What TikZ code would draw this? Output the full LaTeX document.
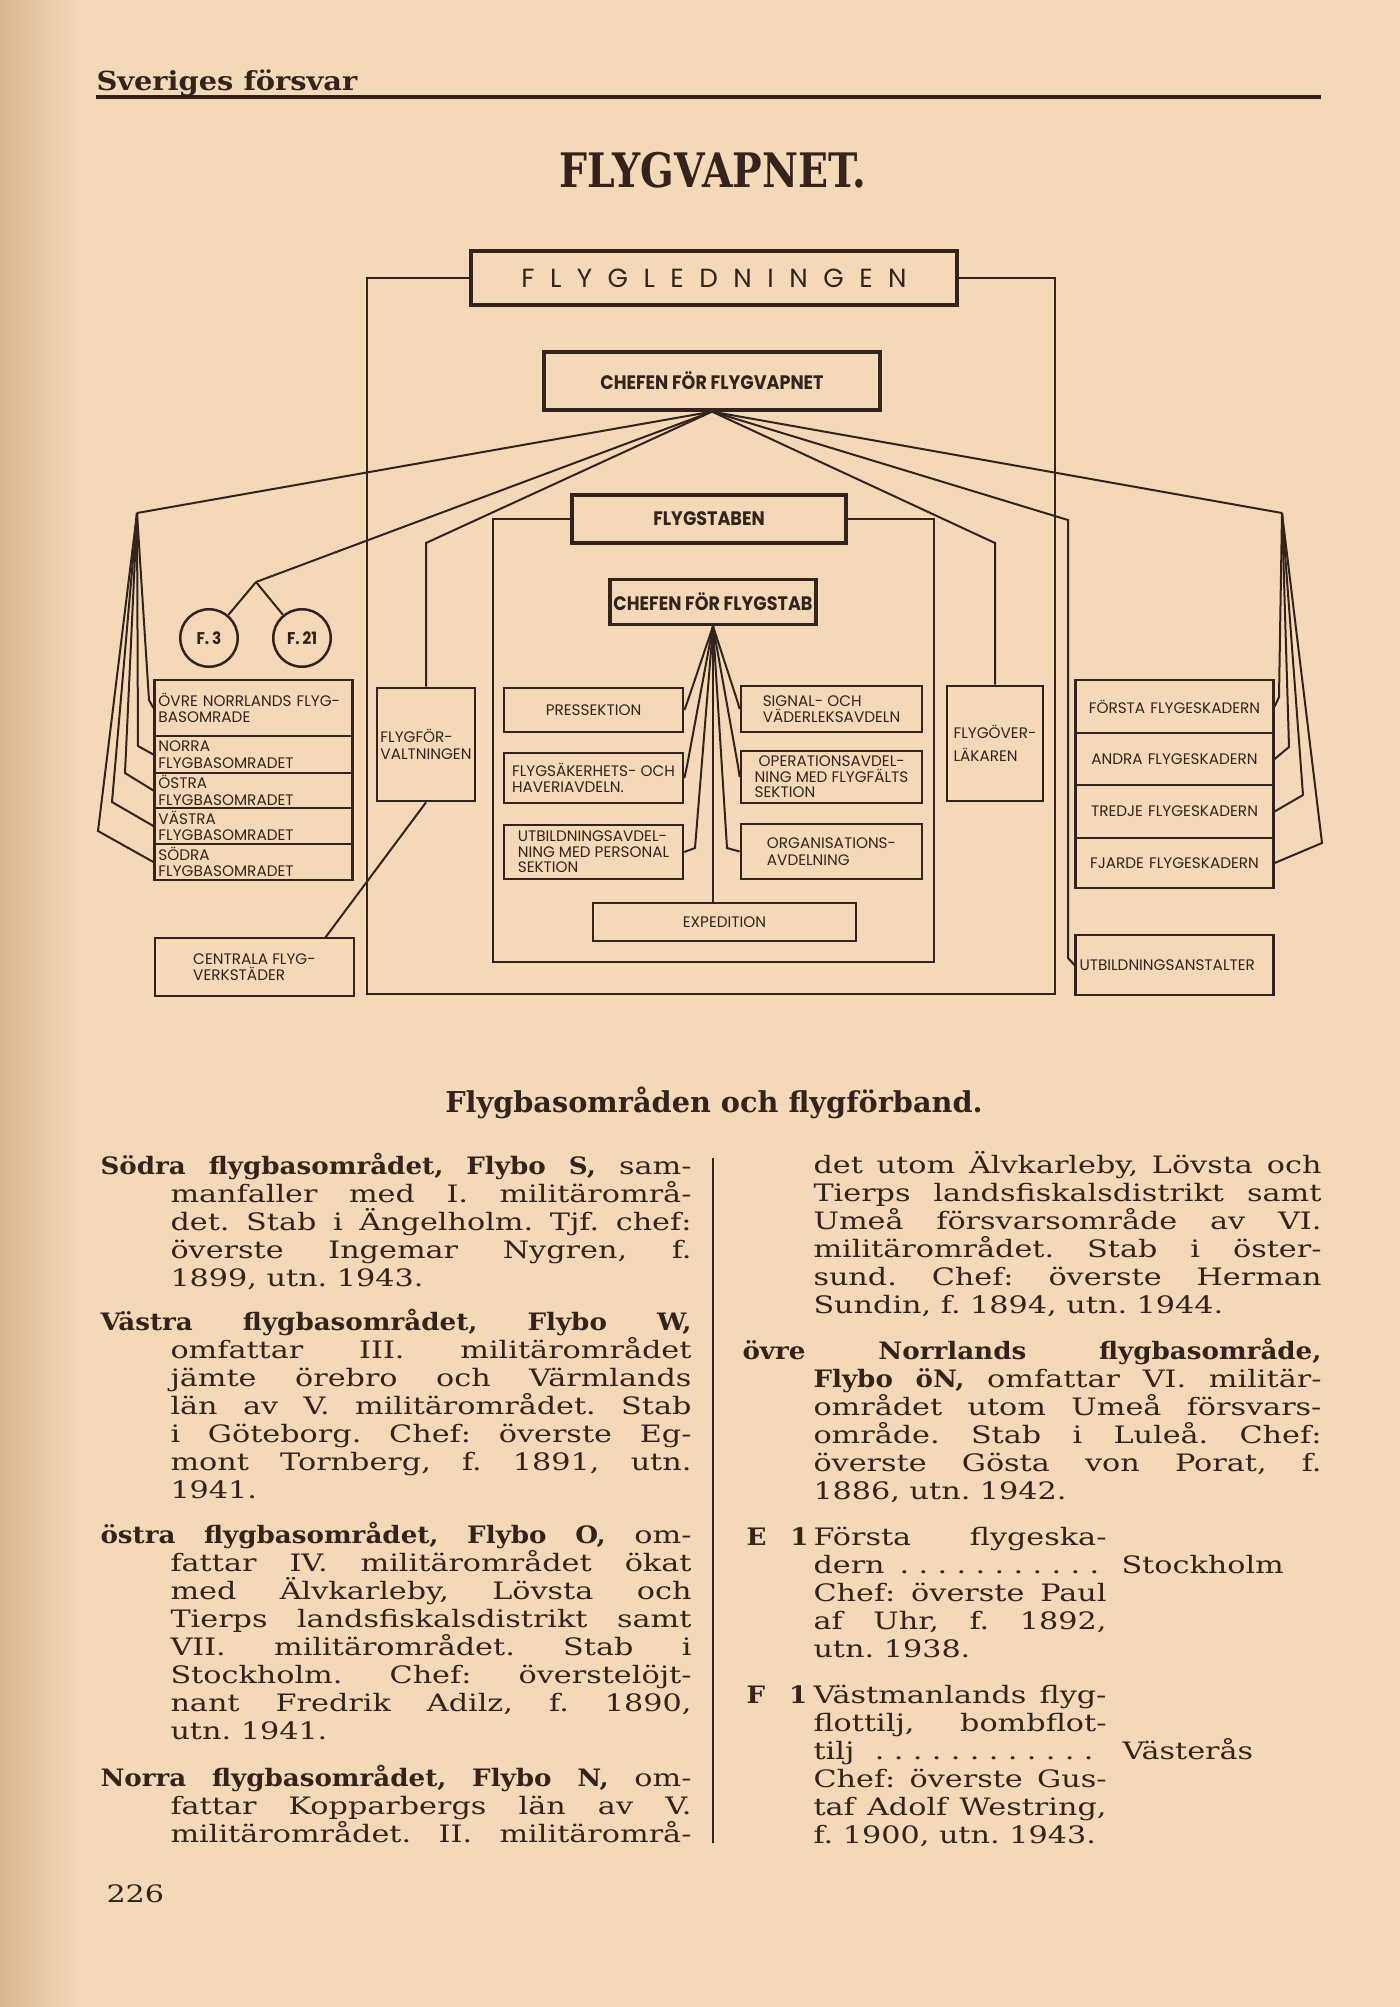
\documentclass[tikz,border=0pt]{standalone}
\usepackage{fontspec}
\setmainfont{DejaVu Serif}[FakeStretch=1.26]
\newfontfamily\boldbody{DejaVu Serif}[FakeStretch=1.09]
\newfontfamily\headfont{DejaVu Serif}
\newfontfamily\chartfont{Poppins}
\newfontfamily\chartcond{Poppins}[FakeStretch=0.9]
\usepackage{graphicx}
\usepackage{xcolor}
\definecolor{paper}{RGB}{243,217,183}
\definecolor{paperedge}{RGB}{218,182,142}
\definecolor{ink}{RGB}{50,36,28}
\frenchspacing

\newcommand\lsp{\kern6.2pt}
\newlength\indw
\newcommand\heavy[1]{{\boldbody\bfseries #1}}
\newcommand\dotrow{\cleaders\hbox to 7.6pt{\hss.\hss}\hfill\kern0pt}
\newcommand\jfirst[1]{\hbox to\hsize{\spaceskip=.3em plus 1fil\relax#1}}
\newcommand\jmid[1]{\hbox to\hsize{\hskip\indw\relax\spaceskip=.3em plus 1fil\relax#1}}
\newcommand\jlast[1]{\hbox to\hsize{\hskip\indw\relax#1\hfill}}
\newcommand\colblock[3]{\vtop{\hsize=#1\relax\indw=#2\relax\baselineskip=11.2pt\relax#3}}

\begin{document}
\begin{tikzpicture}[
    x=0.4pt, y=-0.4pt,
    unit/.style={draw=ink, line width=1.1pt, inner sep=1.5pt, align=left,
                 text=ink, font=\chartfont\fontsize{6.1}{6.6}\selectfont},
    stackbox/.style={unit, text width=76pt, inner ysep=0.3pt},
    chief/.style={unit, line width=1.3pt, align=center, inner xsep=0.5pt,
                  font=\chartcond\bfseries\fontsize{7.8}{8}\selectfont},
    wing/.style={unit, circle, inner sep=0pt, minimum size=23pt, line width=1pt,
                 font=\chartcond\bfseries\fontsize{6.8}{7}\selectfont},
    wire/.style={draw=ink, line width=0.8pt},
    frame/.style={draw=ink, line width=1.1pt},
    para/.style={anchor=base west, inner sep=0pt, text=ink,
                 font=\fontsize{9.6}{11.2}\selectfont},
]
  % paper
  \fill[paper] (0,0) rectangle (1400,2007);
  \fill[left color=paperedge, right color=paper] (0,0) rectangle (80,2007);
  \useasboundingbox (0,0) rectangle (1400,2007);

  \node[anchor=west, inner sep=0pt, text=ink,
        font=\headfont\bfseries\fontsize{10.5}{11}\selectfont] (runhead) at (96,83)
    {\scalebox{1.1}[1]{Sveriges försvar}};
  \draw[ink, line width=1.3pt] (96,97) -- (1321,97);
  \node[text=ink, font=\headfont\bfseries\fontsize{19}{20}\selectfont] (title) at (713,170)
    {\scalebox{0.83}[1]{FLYGVAPNET.}};

  % top of the chart
  \node[unit, line width=1.6pt, minimum width=194.4pt, minimum height=21.6pt,
        font=\chartfont\fontsize{10.5}{11}\selectfont] (fled) at (714,278)
    {F\lsp L\lsp Y\lsp G\lsp L\lsp E\lsp D\lsp N\lsp I\lsp N\lsp G\lsp E\lsp N};
  \node[chief, minimum width=134.4pt, minimum height=23.2pt] (cfv) at (712,381) {CHEFEN FÖR FLYGVAPNET};
  \node[chief, minimum width=109.6pt, minimum height=19.2pt] (fstab) at (709,519) {FLYGSTABEN};
  \node[chief, minimum width=82.4pt, minimum height=18pt] (cfs) at (713,602) {CHEFEN FÖR FLYGSTAB};

  \node[wing] (f3)  at (209,638) {F.\,3};
  \node[wing] (f21) at (302,638) {F.\,21};

  % flygbasområden
  \node[stackbox, minimum height=22.4pt] (ovre)   at (253.5,708)   {ÖVRE NORRLANDS FLYG-\\BASOMRADE};
  \node[stackbox, minimum height=14.8pt] (norra)  at (253.5,754.5) {NORRA\\FLYGBASOMRADET};
  \node[stackbox, minimum height=14pt]   (ostra)  at (253.5,790.5) {ÖSTRA\\FLYGBASOMRADET};
  \node[stackbox, minimum height=14.4pt] (vastra) at (253.5,826)   {VÄSTRA\\FLYGBASOMRADET};
  \node[stackbox, minimum height=14.4pt] (sodra)  at (253.5,862)   {SÖDRA\\FLYGBASOMRADET};
  \node[unit, minimum width=79.6pt, minimum height=23.2pt] (verkst) at (254.5,967) {CENTRALA FLYG-\\VERKSTÄDER};

  \node[unit, inner xsep=0.3pt, minimum width=39.2pt, minimum height=45.2pt] (forv) at (426,744.5)
    {FLYGFÖR-\\VALTNINGEN};
  \node[unit, minimum width=38.4pt, minimum height=46pt] (lakar) at (995,743.5)
    {FLYGÖVER-\\[2.6pt]LÄKAREN};

  % flygstaben
  \node[unit, minimum width=71.6pt, minimum height=17.6pt] (press)  at (593.5,710) {PRESSEKTION};
  \node[unit, minimum width=71.6pt, minimum height=20pt]   (fsak)   at (593.5,778) {FLYGSÄKERHETS- OCH\\HAVERIAVDELN.};
  \node[unit, inner ysep=0.3pt, minimum width=71.6pt, minimum height=21.6pt,
        font=\chartfont\fontsize{6.1}{6.2}\selectfont] (utbavd) at (593.5,852)
    {UTBILDNINGSAVDEL-\\NING MED PERSONAL\\SEKTION};
  \node[unit, minimum width=72.4pt, minimum height=18.4pt] (signal) at (831.5,709) {SIGNAL- OCH\\VÄDERLEKSAVDELN};
  \node[unit, inner ysep=0.3pt, minimum width=72.4pt, minimum height=20.8pt,
        font=\chartfont\fontsize{6.1}{6.2}\selectfont] (oper) at (831.5,777)
    {\ OPERATIONSAVDEL-\\NING MED FLYGFÄLTS\\SEKTION};
  \node[unit, minimum width=72.4pt, minimum height=22pt]   (organ)  at (831.5,851.5) {ORGANISATIONS-\\AVDELNING};
  \node[unit, minimum width=105.2pt, minimum height=15.2pt] (exped) at (724.5,922) {EXPEDITION};

  % flygeskadrar
  \node[stackbox, align=center, minimum height=21.2pt] (forsta) at (1174.5,706.5) {FÖRSTA FLYGESKADERN};
  \node[stackbox, align=center, minimum height=20.8pt] (andra)  at (1174.5,759)   {ANDRA FLYGESKADERN};
  \node[stackbox, align=center, minimum height=21.2pt] (tredje) at (1174.5,811.5) {TREDJE FLYGESKADERN};
  \node[stackbox, align=center, minimum height=20pt]   (fjarde) at (1174.5,863)   {FJARDE FLYGESKADERN};
  \node[stackbox, minimum height=24pt] (utbans) at (1174.5,965) {UTBILDNINGSANSTALTER};

  % bends
  \coordinate (fo1) at (367,278);   \coordinate (fo2) at (367,994);
  \coordinate (fo3) at (1055,994);  \coordinate (fo4) at (1055,278);
  \coordinate (fi1) at (493,519);   \coordinate (fi2) at (493,962);
  \coordinate (fi3) at (934,962);   \coordinate (fi4) at (934,519);
  \coordinate (lfan) at (137,513);  \coordinate (rfan) at (1282,513);
  \coordinate (k1) at (149,700);  \coordinate (k2) at (138,746);  \coordinate (k3) at (125,773);
  \coordinate (k4) at (112,802);  \coordinate (k5) at (98,831);
  \coordinate (r1) at (1279,697); \coordinate (r2) at (1289,747);
  \coordinate (r3) at (1303,795); \coordinate (r4) at (1322,843);
  \coordinate (fjn) at (256,582);
  \coordinate (kforv) at (426,543); \coordinate (klak) at (995,543);
  \coordinate (kutb1) at (1068,520); \coordinate (kutb2) at (1068,958);
  \coordinate (cvk) at (325,938);
  \coordinate (sp) at (687,703); \coordinate (sf) at (687,766); \coordinate (su) at (695,848);
  \coordinate (ss) at (737,700); \coordinate (so) at (738,766); \coordinate (sg) at (727,848);

  \draw[frame] (fled.west) -- (fo1) -- (fo2) -- (fo3) -- (fo4) -- (fled.east);
  \draw[frame] (fstab.west) -- (fi1) -- (fi2) -- (fi3) -- (fi4) -- (fstab.east);

  \draw[wire] (cfv.south) -- (lfan);
  \draw[wire] (lfan) -- (k1) -- (ovre.west);
  \draw[wire] (lfan) -- (k2) -- (norra.west);
  \draw[wire] (lfan) -- (k3) -- (ostra.west);
  \draw[wire] (lfan) -- (k4) -- (vastra.west);
  \draw[wire] (lfan) -- (k5) -- (sodra.west);
  \draw[wire] (cfv.south) -- (fjn);
  \draw[wire] (fjn) -- (f3);
  \draw[wire] (fjn) -- (f21);
  \draw[wire] (cfv.south) -- (kforv) -- (forv.north);
  \draw[wire] (forv.south) -- (cvk);
  \draw[wire] (cfv.south) -- (klak) -- (lakar.north);
  \draw[wire] (cfv.south) -- (kutb1) -- (kutb2) -- (utbans.west);
  \draw[wire] (cfv.south) -- (rfan);
  \draw[wire] (rfan) -- (r1) -- (forsta.east);
  \draw[wire] (rfan) -- (r2) -- (andra.east);
  \draw[wire] (rfan) -- (r3) -- (tredje.east);
  \draw[wire] (rfan) -- (r4) -- (fjarde.east);

  \draw[wire] (cfs.south) -- (sp) -- (press.east);
  \draw[wire] (cfs.south) -- (sf) -- (fsak.east);
  \draw[wire] (cfs.south) -- (su) -- (utbavd.east);
  \draw[wire] (cfs.south) -- (ss) -- (signal.west);
  \draw[wire] (cfs.south) -- (so) -- (oper.west);
  \draw[wire] (cfs.south) -- (sg) -- (organ.west);
  \draw[wire] (cfs.south) -- (cfs.south |- exped.north);

  % text below the chart
  \node[text=ink, font=\headfont\bfseries\fontsize{11.5}{12}\selectfont] (subhead) at (714,1103)
    {Flygbasområden och flygförband.};
  \draw[ink, line width=0.7pt] (713,1158) -- (713,1843);

  \node[para] (txtS) at (100,1174) {\colblock{236.4pt}{28pt}{%
    \jfirst{\heavy{Södra flygbasområdet, Flybo S,} sam-}
    \jmid{manfaller med I. militärområ-}
    \jmid{det. Stab i Ängelholm. Tjf. chef:}
    \jmid{överste Ingemar Nygren, f.}
    \jlast{1899, utn. 1943.}}};
  \node[para] (txtW) at (100,1330) {\colblock{236.4pt}{28pt}{%
    \jfirst{\heavy{Västra flygbasområdet, Flybo W,}}
    \jmid{omfattar III. militärområdet}
    \jmid{jämte örebro och Värmlands}
    \jmid{län av V. militärområdet. Stab}
    \jmid{i Göteborg. Chef: överste Eg-}
    \jmid{mont Tornberg, f. 1891, utn.}
    \jlast{1941.}}};
  \node[para] (txtO) at (100,1543) {\colblock{236.4pt}{28pt}{%
    \jfirst{\heavy{östra flygbasområdet, Flybo O,} om-}
    \jmid{fattar IV. militärområdet ökat}
    \jmid{med Älvkarleby, Lövsta och}
    \jmid{Tierps landsfiskalsdistrikt samt}
    \jmid{VII. militärområdet. Stab i}
    \jmid{Stockholm. Chef: överstelöjt-}
    \jmid{nant Fredrik Adilz, f. 1890,}
    \jlast{utn. 1941.}}};
  \node[para] (txtN) at (100,1786) {\colblock{236.4pt}{28pt}{%
    \jfirst{\heavy{Norra flygbasområdet, Flybo N,} om-}
    \jmid{fattar Kopparbergs län av V.}
    \jmid{militärområdet. II. militärområ-}}};

  \node[para] (txtN2) at (742,1173) {\colblock{231.6pt}{28.4pt}{%
    \jmid{det utom Älvkarleby, Lövsta och}
    \jmid{Tierps landsfiskalsdistrikt samt}
    \jmid{Umeå försvarsområde av VI.}
    \jmid{militärområdet. Stab i öster-}
    \jmid{sund. Chef: överste Herman}
    \jlast{Sundin, f. 1894, utn. 1944.}}};
  \node[para] (txtON) at (742,1359) {\colblock{231.6pt}{28.4pt}{%
    \jfirst{\heavy{övre Norrlands flygbasområde,}}
    \jmid{\heavy{Flybo öN,} omfattar VI. militär-}
    \jmid{området utom Umeå försvars-}
    \jmid{område. Stab i Luleå. Chef:}
    \jmid{överste Gösta von Porat, f.}
    \jlast{1886, utn. 1942.}}};

  \node[para] (txtE1) at (746,1545) {\colblock{144pt}{26.8pt}{%
    \jfirst{\makebox[\indw][l]{\heavy{E\quad 1}}Första flygeska-}
    \jmid{dern\hskip 3pt\dotrow}
    \jmid{Chef: överste Paul}
    \jmid{af Uhr, f. 1892,}
    \jlast{utn. 1938.}}};
  \node[para] (ortE1) at (1121,1573) {Stockholm};
  \node[para] (txtF1) at (746,1703) {\colblock{144pt}{26.8pt}{%
    \jfirst{\makebox[\indw][l]{\heavy{F\quad 1}}Västmanlands flyg-}
    \jmid{flottilj, bombflot-}
    \jmid{tilj\hskip 3pt\dotrow}
    \jmid{Chef: överste Gus-}
    \jmid{taf Adolf Westring,}
    \jlast{f. 1900, utn. 1943.}}};
  \node[para] (ortF1) at (1122,1759) {Västerås};

  \node[para] (pageno) at (106,1902) {226};
\end{tikzpicture}
\end{document}
